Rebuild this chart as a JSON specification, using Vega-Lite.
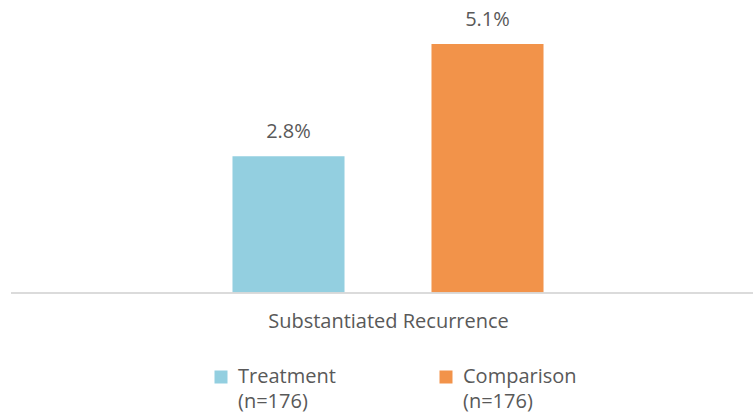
{
  "$schema": "https://vega.github.io/schema/vega-lite/v6.json",
  "width": 754,
  "height": 293,
  "autosize": "none",
  "padding": {"left": 11, "top": 0, "right": 0, "bottom": 122},
  "background": "white",
  "config": {
    "view": {"stroke": null},
    "font": "Open Sans"
  },
  "data": {
    "values": [
      {"group": "Treatment", "rate": 0.028},
      {"group": "Comparison", "rate": 0.051}
    ]
  },
  "encoding": {
    "x": {
      "field": "group",
      "type": "nominal",
      "scale": {"domain": [" ", "Treatment", "Comparison", "  "], "paddingInner": 0.437, "paddingOuter": 0.113},
      "axis": {
        "title": "Substantiated Recurrence",
        "labels": false,
        "ticks": false,
        "domain": false,
        "titleFontSize": 20,
        "titleFontWeight": "normal",
        "titleColor": "#595959",
        "titlePadding": 18
      }
    },
    "y": {
      "field": "rate",
      "type": "quantitative",
      "scale": {"domain": [0, 0.06]},
      "axis": null
    }
  },
  "layer": [
    {
      "mark": {"type": "bar"},
      "encoding": {
        "color": {
          "field": "group",
          "type": "nominal",
          "scale": {"domain": ["Treatment", "Comparison"], "range": ["#93CFE0", "#F2934A"]},
          "legend": {
            "title": null,
            "orient": "none",
            "legendX": 200,
            "legendY": 367,
            "direction": "horizontal",
            "columns": 2,
            "padding": 0,
            "columnPadding": 100,
            "symbolType": "square",
            "symbolSize": 169,
            "symbolStrokeWidth": 0,
            "labelFontSize": 20,
            "labelColor": "#595959",
            "labelOffset": 7,
            "labelLimit": 300,
            "labelExpr": "[datum.label, '(n=176)']",
            "encode": {
              "labels": {"update": {"lineHeight": {"value": 25}}}
            }
          }
        }
      }
    },
    {
      "mark": {"type": "text", "dy": -18, "baseline": "alphabetic", "fontSize": 20, "color": "#595959"},
      "encoding": {
        "text": {"field": "rate", "type": "quantitative", "format": ".1%"}
      }
    },
    {
      "mark": {"type": "rule", "color": "#D9D9D9", "strokeWidth": 1.5},
      "encoding": {"y": {"datum": 0}, "x": null}
    }
  ]
}
